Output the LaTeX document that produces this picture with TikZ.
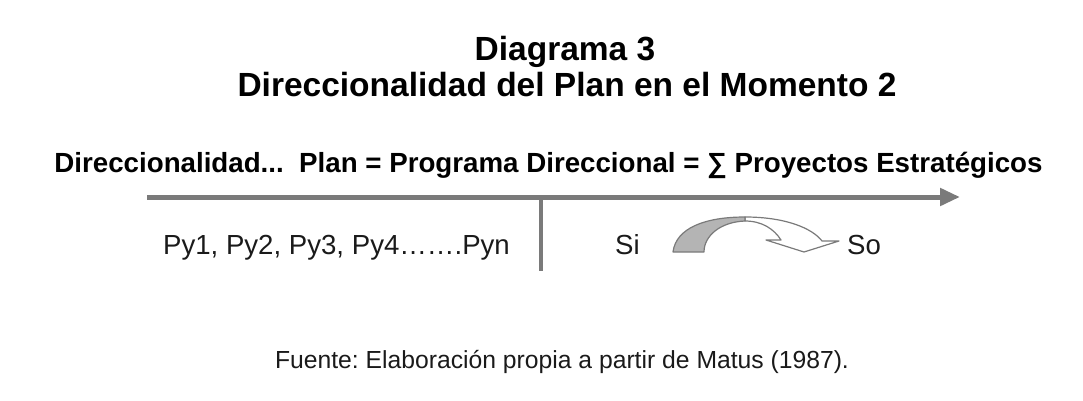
\documentclass[tikz,border=0pt]{standalone}
\usepackage{fontspec}
\setmainfont{Liberation Sans}
\usetikzlibrary{arrows.meta}
\frenchspacing
\definecolor{linegray}{HTML}{7A7A7A}
\definecolor{fillgray}{HTML}{B4B4B4}
\definecolor{txt}{HTML}{1A1A1A}
\tikzset{
  ttl/.style={font=\fontsize{33.5}{38}\selectfont\bfseries, text=black, inner sep=0pt, anchor=base},
  sub/.style={font=\fontsize{27.7}{32}\selectfont\bfseries, text=black, inner sep=0pt, anchor=base},
  lbl/.style={font=\fontsize{27.6}{32}\selectfont, text=txt, inner sep=0pt, anchor=base},
  src/.style={font=\fontsize{24.7}{28}\selectfont, text=txt, inner sep=0pt, anchor=base},
  axis/.style={draw=linegray, line width=5pt, -{Triangle[length=20pt,width=17pt]}},
  divider/.style={draw=linegray, line width=4pt},
  curvefill/.style={draw=linegray, line width=1.2pt, fill=fillgray, line join=round},
  curveout/.style={draw=linegray, line width=1.2pt, fill=white, line join=round}
}
\begin{document}
\begin{tikzpicture}[x=1pt,y=-1pt]
\useasboundingbox (0,0) rectangle (1083,401);
\node[ttl] (t1) at (565,61) {Diagrama 3};
\node[ttl] (t2) at (567,96) {Direccionalidad del Plan en el Momento 2};
\node[sub] (s1) at (548.5,172) {Direccionalidad...\ \ Plan = Programa Direccional = ∑ Proyectos Estratégicos};
\coordinate (a0) at (147,197);
\coordinate (a1) at (960,197);
\draw[axis] (a0) -- (a1);
\coordinate (v0) at (541,197);
\coordinate (v1) at (541,271);
\draw[divider] (v0) -- (v1);
\node[lbl] (py) at (336.5,254) {Py1, Py2, Py3, Py4…….Pyn};
\node[lbl] (si) at (627.5,254) {Si};
\node[lbl] (so) at (864,254) {So};
% curved arrow
\draw[curveout] (745,217) .. controls (785,217) and (812,228) .. (822,241)
  -- (839,241) -- (804,252) -- (766,240) -- (781,240)
  .. controls (774,229) and (762,221) .. (745,221) -- cycle;
\draw[curvefill] (673,252) .. controls (676,228) and (705,217) .. (745,217)
  -- (745,221) .. controls (720,222) and (704,236) .. (704,252) -- cycle;
\node[src] (f) at (562,368) {Fuente: Elaboración propia a partir de Matus (1987).};
\end{tikzpicture}
\end{document}
